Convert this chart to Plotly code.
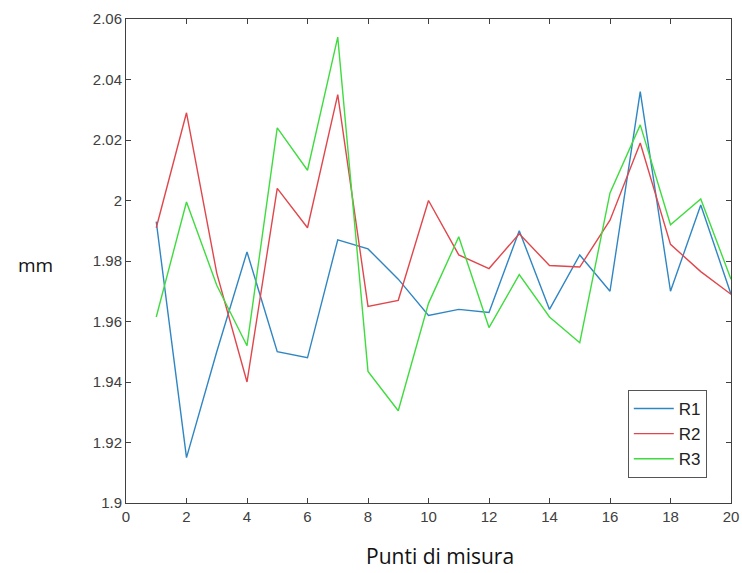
import plotly.graph_objects as go

x = list(range(1, 21))
r1 = [1.993, 1.915, 1.950, 1.983, 1.950, 1.948, 1.987, 1.984, 1.974, 1.962,
      1.964, 1.963, 1.990, 1.964, 1.982, 1.970, 2.036, 1.970, 1.9985, 1.969]
r2 = [1.991, 2.029, 1.976, 1.940, 2.004, 1.991, 2.035, 1.965, 1.967, 2.000,
      1.982, 1.9775, 1.989, 1.9785, 1.978, 1.9935, 2.019, 1.9855, 1.9765, 1.969]
r3 = [1.9615, 1.9995, 1.972, 1.952, 2.024, 2.010, 2.054, 1.9435, 1.9305, 1.966,
      1.988, 1.958, 1.9755, 1.9615, 1.953, 2.0025, 2.025, 1.992, 2.0005, 1.974]
names = ["R1", "R2", "R3"]
colors = ["#2f86c3", "#e0474c", "#3fdc3f"]

fig = go.Figure()
for nm, ys, c in zip(names, [r1, r2, r3], colors):
    fig.add_trace(go.Scatter(x=x, y=ys, mode="lines", name=nm,
                             line=dict(color=c, width=1.4)))

axis_common = dict(showline=True, linecolor="#404040", linewidth=1,
                   mirror="ticks", ticks="inside", ticklen=5, tickcolor="#404040",
                   showgrid=False, zeroline=False, automargin=False,
                   tickfont=dict(family="Liberation Sans, Arial", size=15, color="#404040"))

fig.update_layout(
    width=742, height=573,
    margin=dict(l=126, r=11, t=19, b=70),
    paper_bgcolor="white", plot_bgcolor="white",
    xaxis=dict(range=[0, 20], tickvals=list(range(0, 21, 2)), **axis_common),
    yaxis=dict(range=[1.9, 2.06], tickvals=[1.9, 1.92, 1.94, 1.96, 1.98, 2.0, 2.02, 2.04, 2.06],
               ticktext=["1.9", "1.92", "1.94", "1.96", "1.98", "2", "2.02", "2.04", "2.06"],
               **axis_common),
    legend=dict(x=0.96, y=0.2335, xanchor="right", yanchor="top",
                bordercolor="#555555", borderwidth=1, bgcolor="white",
                font=dict(family="Liberation Sans, Arial", size=17, color="#222222"),
                itemwidth=40, tracegroupgap=0),
    showlegend=True,
    annotations=[
        dict(text="mm", x=-0.15, y=0.492, xref="paper", yref="paper",
             xanchor="center", yanchor="middle",
             showarrow=False, font=dict(family="Open Sans", size=19, color="#111111")),
        dict(text="Punti di misura", x=0.519, y=-0.1095, xref="paper", yref="paper",
             showarrow=False, xanchor="center", yanchor="middle",
             font=dict(family="Open Sans", size=21, color="#111111")),
    ],
)

fig.write_html("out.html")
